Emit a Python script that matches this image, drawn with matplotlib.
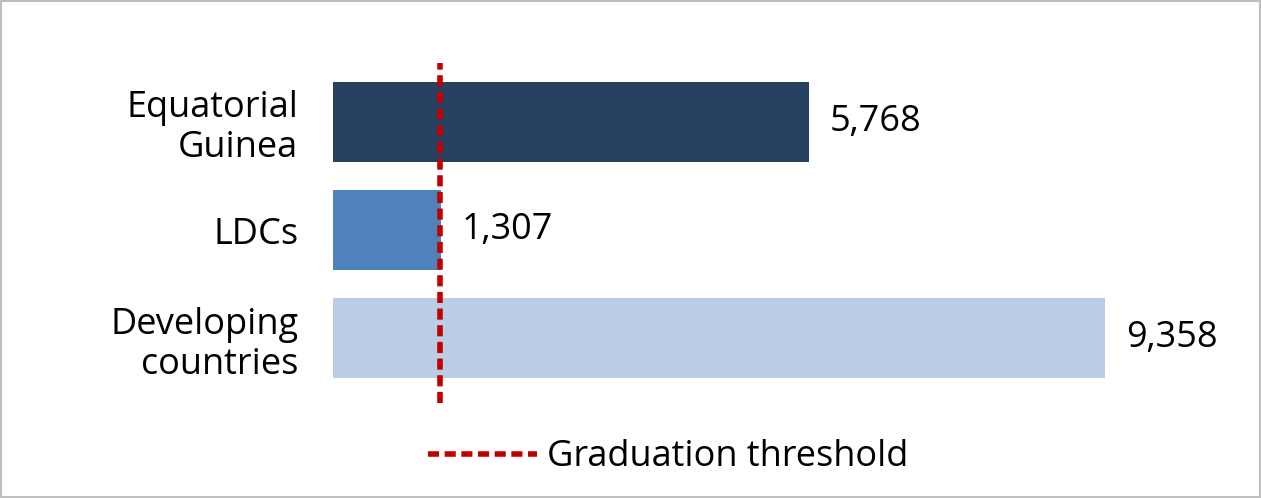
import matplotlib
matplotlib.use("Agg")
import matplotlib.pyplot as plt
from matplotlib.patches import Rectangle

categories = ["Equatorial\nGuinea", "LDCs", "Developing\ncountries"]
values = [5768, 1307, 9358]
labels = ["5,768", "1,307", "9,358"]
colors = ["#264061", "#4F81BD", "#B9CDE5"]
threshold = 1300

plt.rcParams["font.family"] = "Open Sans"
fig = plt.figure(figsize=(12.61, 4.98), dpi=100)
ax = fig.add_axes([333/1261, 1-400/498, (1240-333)/1261, 340/498])
y = [0, 1, 2]
ax.barh(y, values, height=0.74, color=colors)
ax.set_ylim(2.57, -0.57)
ax.set_xlim(0, 10994)
for yi, v, l in zip(y, values, labels):
    ax.text(v + 250, yi, l, va="center", ha="left", fontsize=26)
ax.set_yticks(y)
ax.set_yticklabels(categories, fontsize=26, linespacing=1.15, ha="right")
ax.tick_params(axis="y", length=0, pad=25)
ax.set_xticks([])
for s in ax.spines.values():
    s.set_visible(False)
ax.axvline(threshold, ymin=-0.01, ymax=0.99, color="#C00000", lw=4, ls=(0, (2, 1)),
           clip_on=False, label="Graduation threshold")
ax.legend(loc="upper center", bbox_to_anchor=(0.37, -0.02), frameon=False, fontsize=26,
          handlelength=3, handletextpad=0.3)
fig.patches.append(Rectangle((0.001, 0.002), 0.998, 0.996, transform=fig.transFigure,
                             fill=False, edgecolor="#BFBFBF", lw=1.5))
fig.savefig("out.png", dpi=100)
